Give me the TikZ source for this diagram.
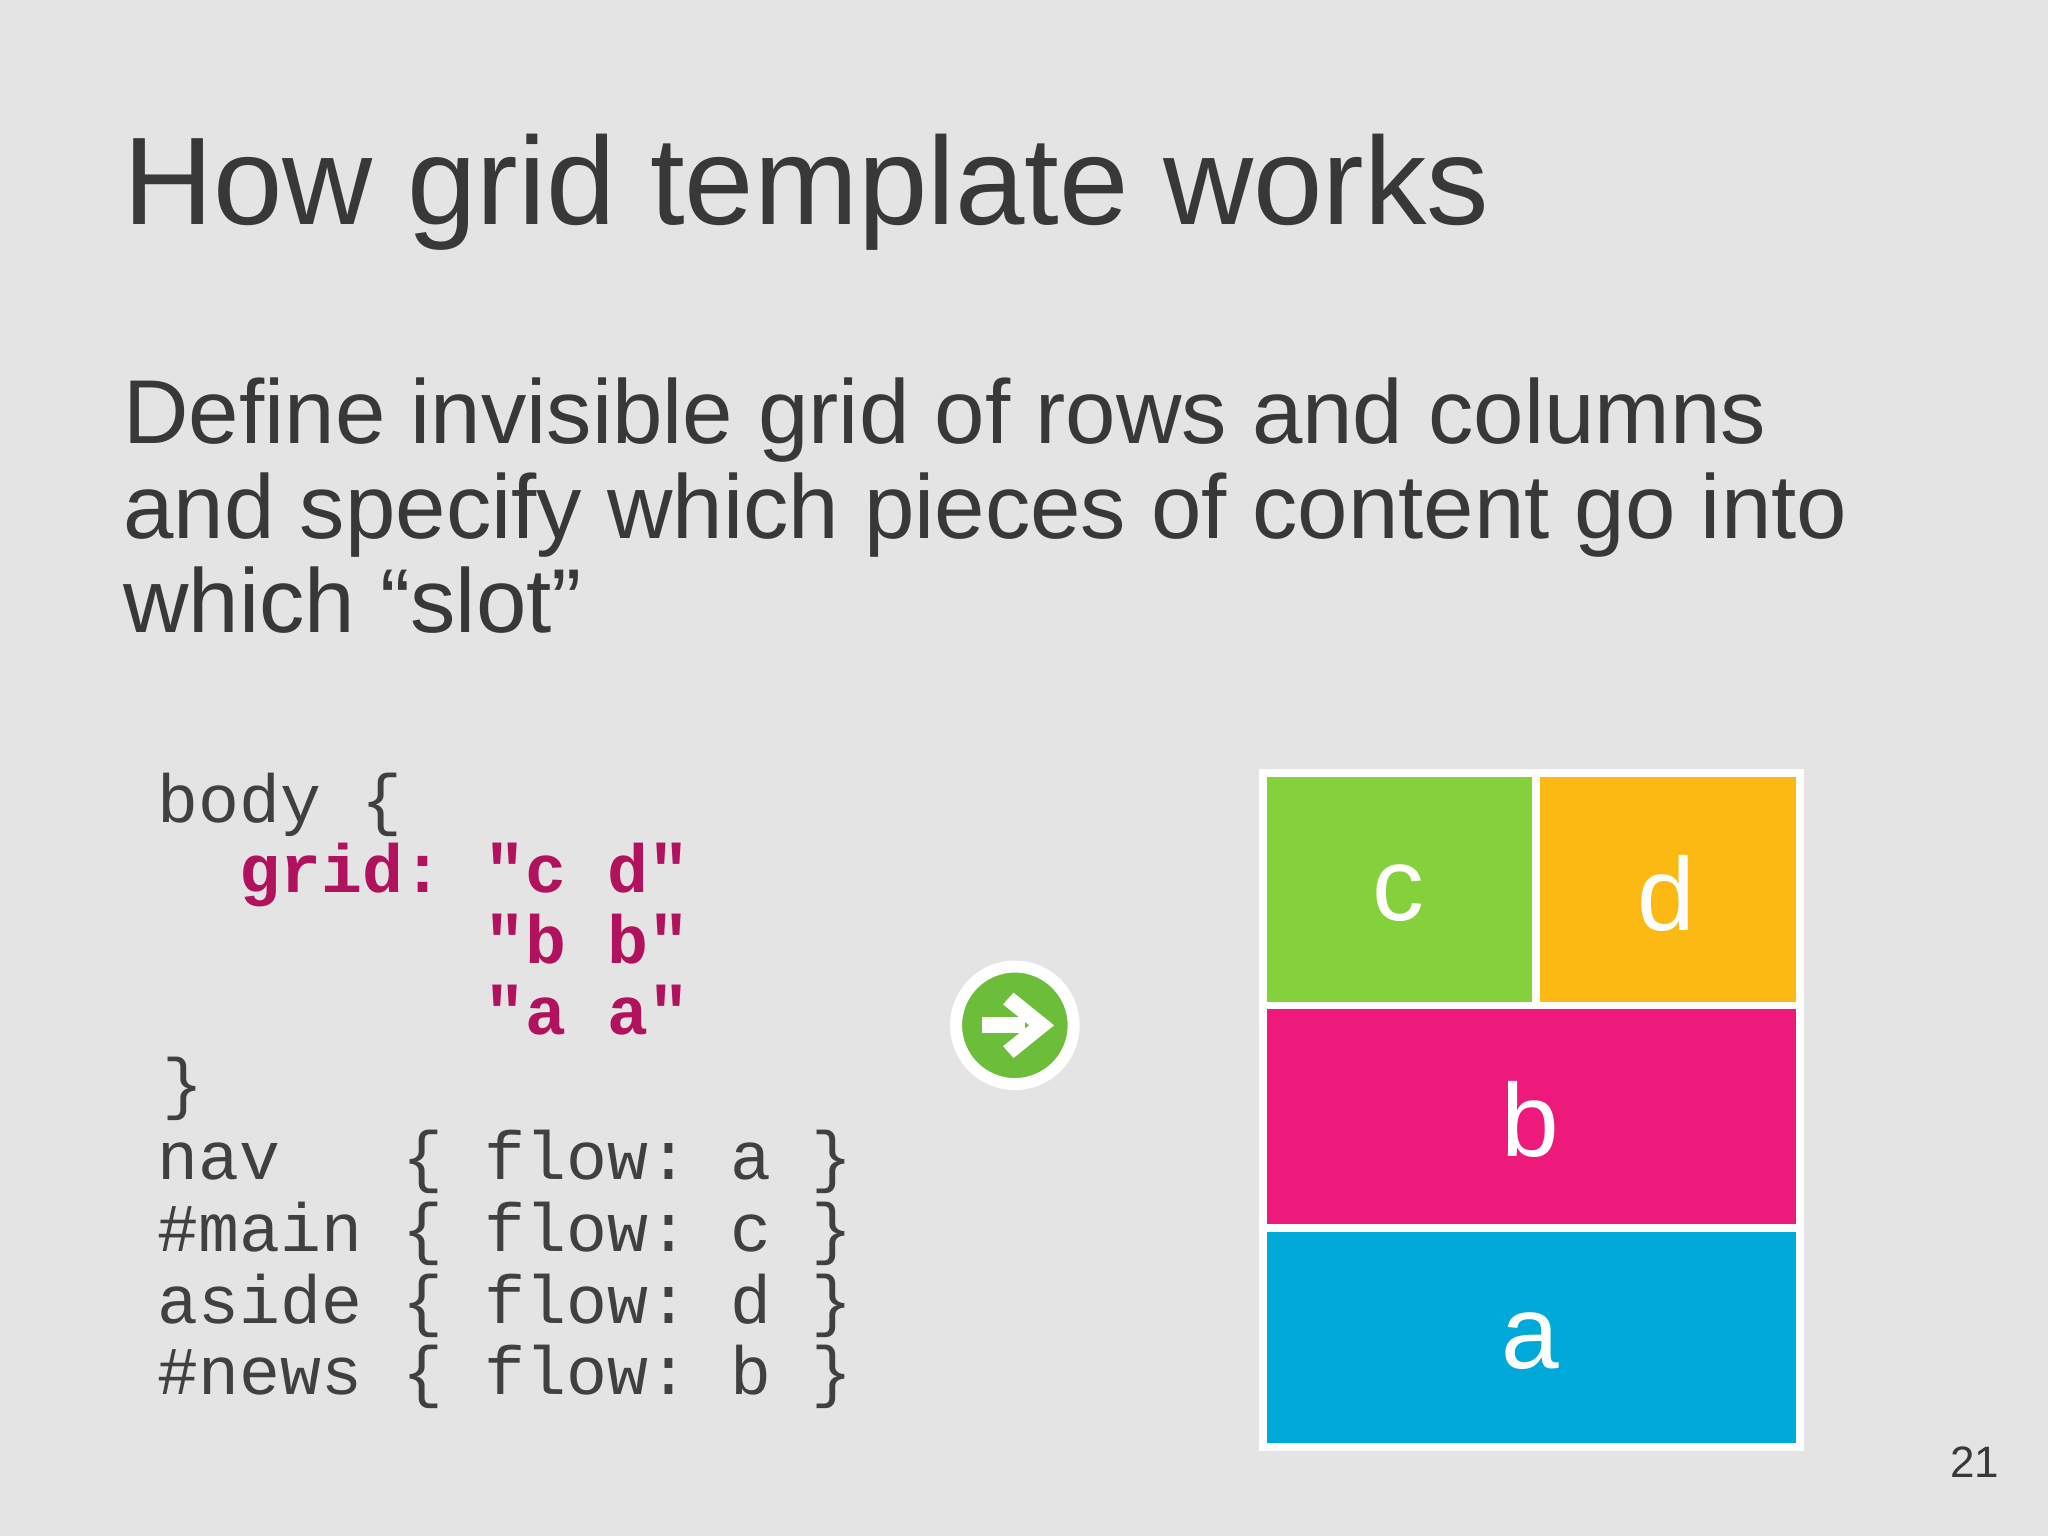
\documentclass[tikz,border=0pt]{standalone}
\usepackage{fontspec}
\setmainfont{Liberation Sans}
\setmonofont{Liberation Mono}
\definecolor{bg}{HTML}{E4E4E4}
\definecolor{tx}{HTML}{383838}
\definecolor{ctx}{HTML}{404040}
\definecolor{mag}{HTML}{B0125E}
\definecolor{cg}{HTML}{84D13C}
\definecolor{co}{HTML}{FDB913}
\definecolor{cp}{HTML}{ED1A7B}
\definecolor{cb}{HTML}{00AAD8}
\definecolor{ag}{HTML}{6CBE3A}
\tikzset{code/.style={anchor=base west,inner sep=0pt,font=\fontsize{19.4}{20}\selectfont\ttfamily,text=ctx},
 lab/.style={text=white,font=\fontsize{29.5}{30}\selectfont},
 cellb/.style={draw=white,line width=0.75mm}}
\begin{document}
\begin{tikzpicture}[x=0.013061cm,y=-0.013061cm]
\fill[bg] (0,0) rectangle (1568,1176);
\useasboundingbox (0,0) rectangle (1568,1176);
\node[anchor=base west,inner sep=0pt,text=tx,font=\fontsize{35.5}{36}\selectfont] (title) at (94,172) {How grid template works};
\node[anchor=north west,inner sep=0pt,text=tx,align=left,font=\fontsize{25.8}{26.8}\selectfont] (body) at (94,289) {Define invisible grid of rows and columns\\and specify which pieces of content go into\\which “slot”};
\node[code] (l1) at (120,630) {body~\{};
\node[code] (l2) at (120,683) {\color{mag}\bfseries~~grid:~"c~d"};
\node[code] (l3) at (120,738) {\color{mag}\bfseries~~~~~~~~"b~b"};
\node[code] (l4) at (120,792) {\color{mag}\bfseries~~~~~~~~"a~a"};
\node[code] (l5) at (124,847) {\}};
\node[code] (l6) at (120,903) {nav~~~\{~flow:~a~\}};
\node[code] (l7) at (120,958) {\#main~\{~flow:~c~\}};
\node[code] (l8) at (120,1013) {aside~\{~flow:~d~\}};
\node[code] (l9) at (120,1068) {\#news~\{~flow:~b~\}};
\draw[white,line width=1.2mm,fill=ag] (777,785) circle (45);
\fill[white] (752,779) rectangle (785,791);
\fill[white] (776,760) -- (807,785) -- (776,810) -- (768,801) -- (788,785) -- (768,769) -- cycle;
\fill[cg,cellb] (967,592) rectangle (1176,770);
\fill[co,cellb] (1176,592) rectangle (1378,770);
\fill[cp,cellb] (967,770) rectangle (1378,940);
\fill[cb,cellb] (967,940) rectangle (1378,1108);
\node[lab] (lc) at (1071,684) {c};
\node[lab] (ld) at (1276,684) {d};
\node[lab] (lb) at (1172,857) {b};
\node[lab] (la) at (1172,1027) {a};
\node[anchor=base,inner sep=0pt,text=tx,font=\fontsize{12.5}{13}\selectfont] (pg) at (1512,1131) {21};
\end{tikzpicture}
\end{document}
